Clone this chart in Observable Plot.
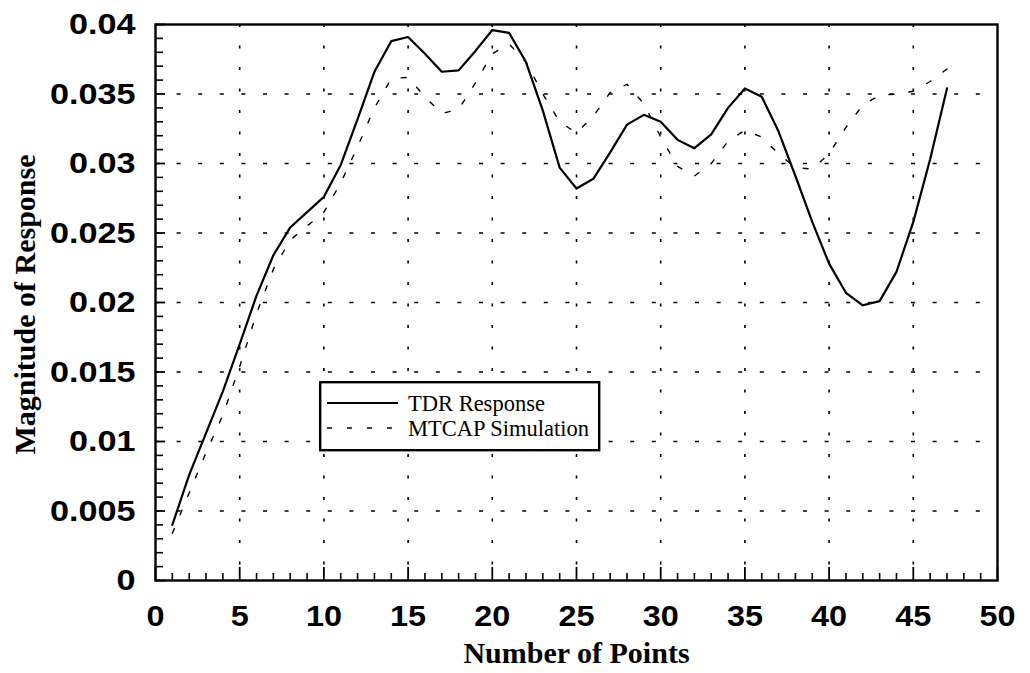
<!DOCTYPE html>
<html><head><meta charset="utf-8">
<script src="https://cdn.jsdelivr.net/npm/d3@7"></script>
<script src="https://cdn.jsdelivr.net/npm/@observablehq/plot@0.6"></script>
<style>
body{margin:0;background:#fff;}
#wrap{position:relative;width:1030px;height:673px;}
#legend{position:absolute;left:319px;top:381px;}
</style></head><body>
<div id="wrap"></div>
<script>
// ---- data ----
const points = d3.range(1, 48);
const tdrResponse = [
  0.0040,0.0076,0.0106,0.0136,0.0170,0.0205,0.0234,0.0254,0.0265,0.0276,
  0.0299,0.0332,0.0366,0.0388,0.0391,0.0379,0.0366,0.0367,0.0381,0.0396,
  0.0394,0.0373,0.0338,0.0297,0.0282,0.0289,0.0308,0.0328,0.0335,0.0330,
  0.0317,0.0311,0.0321,0.0340,0.0354,0.0348,0.0323,0.0291,0.0258,0.0228,
  0.0207,0.0198,0.0201,0.0222,0.0258,0.0303,0.0354
];
const mtcapSimulation = [
  0.0034,0.0063,0.0092,0.0119,0.0154,0.0192,0.0224,0.0245,0.0255,0.0265,
  0.0286,0.0312,0.0340,0.0361,0.0362,0.0348,0.0336,0.0339,0.0358,0.0379,
  0.0386,0.0373,0.0350,0.0330,0.0322,0.0334,0.0351,0.0357,0.0343,0.0319,
  0.0298,0.0291,0.0300,0.0316,0.0324,0.0319,0.0307,0.0297,0.0296,0.0307,
  0.0326,0.0342,0.0349,0.0350,0.0352,0.0359,0.0368
];
const xTicks = [0,5,10,15,20,25,30,35,40,45,50];
const yTicks = [0,0.005,0.01,0.015,0.02,0.025,0.03,0.035,0.04];
const xMinor = d3.range(0, 51).filter(v => v % 5 !== 0);
const yMinor = d3.range(0, 41).filter(v => v % 5 !== 0).map(v => v / 1000);
const seriesNames = ["TDR Response", "MTCAP Simulation"];
const xTitle = "Number of Points";
const yTitle = "Magnitude of Response";

const table = points.map((p, i) => ({p, tdr: tdrResponse[i], mtcap: mtcapSimulation[i]}));

// ---- layout ----
const W = 1030, H = 673, mL = 155, mR = 33, mT = 24, mB = 93;
const plotW = W - mL - mR, plotH = H - mT - mB;
const tickFont = "'Liberation Sans', Arial, sans-serif";
const serif = "'Liberation Serif', 'Times New Roman', serif";

const chart = Plot.plot({
  width: W, height: H,
  marginLeft: mL, marginRight: mR, marginTop: mT, marginBottom: mB,
  style: {background: "#fff", color: "#000"},
  x: {domain: [0, 50]},
  y: {domain: [0, 0.04]},
  marks: [
    Plot.gridX(xTicks.slice(1, -1), {stroke: "#000", strokeOpacity: 1, strokeWidth: 1.6, strokeDasharray: "3,18.5"}),
    Plot.gridY(yTicks.slice(1, -1), {stroke: "#000", strokeOpacity: 1, strokeWidth: 1.4, strokeDasharray: "4,17.6"}),
    Plot.tickX(xMinor, {x: d => d, insetTop: plotH - 7, stroke: "#000", strokeWidth: 1.6}),
    Plot.tickX(xTicks, {x: d => d, insetTop: plotH - 13, stroke: "#000", strokeWidth: 1.8}),
    Plot.tickY(yMinor, {y: d => d, insetRight: plotW - 8, stroke: "#000", strokeWidth: 1.6}),
    Plot.tickY(yTicks, {y: d => d, insetRight: plotW - 10, stroke: "#000", strokeWidth: 1.8}),
    Plot.line(table, {x: "p", y: "mtcap", stroke: "#000", strokeWidth: 1.4, strokeDasharray: "5,15"}),
    Plot.line(table, {x: "p", y: "tdr", stroke: "#000", strokeWidth: 2.2}),
    Plot.frame({stroke: "#000", strokeWidth: 2.4}),
    Plot.axisX({ticks: xTicks, tickSize: 0, tickPadding: 24, fontSize: 30, fontWeight: "bold", fontFamily: tickFont, label: null}),
    Plot.axisY({ticks: yTicks, tickSize: 0, tickPadding: 20, fontSize: 30, fontWeight: "bold", fontFamily: tickFont, label: null,
      tickFormat: d => String(+d.toFixed(3))}),
    Plot.text([xTitle], {text: d => d, frameAnchor: "bottom", lineAnchor: "middle", textAnchor: "middle", dy: 73,
      fontSize: 30, fontWeight: "bold", fontFamily: serif, ariaLabel: "x-title"}),
    Plot.text([yTitle], {text: d => d, frameAnchor: "left", lineAnchor: "middle", textAnchor: "middle", rotate: -90,
      dx: -130, dy: 2, fontSize: 30, fontWeight: "bold", fontFamily: serif, ariaLabel: "y-title"})
  ]
});
const wrap = document.getElementById("wrap");
wrap.appendChild(chart);

// stretch texts horizontally a bit, like the (anisotropically scaled) reference
function stretch(sel, f) {
  d3.select(chart).selectAll(sel).each(function() {
    const l = this.getComputedTextLength();
    this.setAttribute("textLength", l * f);
    this.setAttribute("lengthAdjust", "spacingAndGlyphs");
  });
}
stretch('g[aria-label="y-axis tick label"] text', 1.14);
stretch('g[aria-label="x-axis tick label"] text', 1.08);
stretch('g[aria-label="x-title"] text', 1.035);
stretch('g[aria-label="y-title"] text', 1.03);

// legend
const lg = d3.select(wrap).append("svg").attr("id", "legend").attr("width", 282).attr("height", 71);
lg.append("rect").attr("x", 1.2).attr("y", 1.2).attr("width", 279).attr("height", 68)
  .attr("fill", "#fff").attr("stroke", "#000").attr("stroke-width", 2.4);
const styles = [{dash: null, w: 2}, {dash: "5,15", w: 1.4}];
seriesNames.forEach((name, i) => {
  const y = 22 + i * 25;
  lg.append("line").attr("x1", 8).attr("x2", 79).attr("y1", y).attr("y2", y)
    .attr("stroke", "#000").attr("stroke-width", styles[i].w).attr("stroke-dasharray", styles[i].dash);
  lg.append("text").attr("x", 89).attr("y", y + 8).attr("font-family", serif).attr("font-size", 22.5).text(name);
});
</script>
</body></html>
